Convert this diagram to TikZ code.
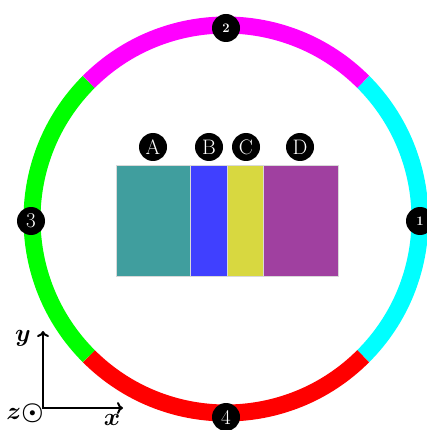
\documentclass[tikz,border=0pt]{standalone}
\usetikzlibrary{arrows.meta}
\definecolor{cA}{RGB}{64,158,158}
\definecolor{cB}{RGB}{64,64,255}
\definecolor{cC}{RGB}{216,216,64}
\definecolor{cD}{RGB}{160,64,160}
\definecolor{rcyan}{RGB}{0,255,255}
\definecolor{rmag}{RGB}{255,0,255}
\definecolor{rgreen}{RGB}{0,255,0}
\definecolor{rred}{RGB}{255,0,0}
\tikzset{
  band/.style={line width=17pt},
  badge/.style={circle, fill=black, text=white, inner sep=0pt, minimum size=28pt, font=\fontsize{21}{25}\selectfont},
  smallbadge/.style={badge, font=\fontsize{13}{15}\selectfont\bfseries},
  slab/.style={inner sep=0pt, minimum height=111pt, draw=white!85!black, line width=0.4pt},
  axis/.style={line width=2pt, -{To[length=6pt,width=12pt]}},
  axlabel/.style={font=\fontsize{25}{30}\selectfont\boldmath, inner sep=1pt}
}
\begin{document}
\begin{tikzpicture}[x=1pt,y=-1pt]
\useasboundingbox (0,0) rectangle (427,430);
\coordinate (ctr) at (226,219);
% ring (y axis points down, so angles run clockwise)
\draw[band, rcyan]  ([shift={(-45:194)}]ctr) arc[start angle=-45, end angle=45, radius=194];
\draw[band, rred]   ([shift={(45:194)}]ctr)  arc[start angle=45, end angle=135, radius=194];
\draw[band, rgreen] ([shift={(135:194)}]ctr) arc[start angle=135, end angle=225, radius=194];
\draw[band, rmag]   ([shift={(225:194)}]ctr) arc[start angle=225, end angle=315, radius=194];
% ring labels
\node[smallbadge] (n1) at (420,221) {1};
\node[smallbadge] (n2) at (226,28) {2};
\node[badge] (n3) at (31,221) {3};
\node[badge] (n4) at (226,417) {4};
% slabs
\node[slab, fill=cA, minimum width=74pt] (A) at (153,220.5) {};
\node[slab, fill=cB, minimum width=37pt] (B) at (208.5,220.5) {};
\node[slab, fill=cC, minimum width=36pt] (C) at (245,220.5) {};
\node[slab, fill=cD, minimum width=75pt] (D) at (300.5,220.5) {};
\node[badge] (lA) at (153,147) {A};
\node[badge] (lB) at (209,147) {B};
\node[badge] (lC) at (246,147) {C};
\node[badge] (lD) at (300,147) {D};
% axes
\coordinate (O) at (43,408);
\coordinate (yend) at (43,331);
\coordinate (xend) at (123,408);
\draw[axis] ([yshift=1pt]O) -- (yend);
\draw[axis] ([xshift=-1pt]O) -- (xend);
\node[axlabel] (ylab) at (23,338) {$y$};
\node[axlabel] (xlab) at (112,420) {$x$};
\node[axlabel] (zlab) at (25,413) {$z\odot$};
\end{tikzpicture}
\end{document}
